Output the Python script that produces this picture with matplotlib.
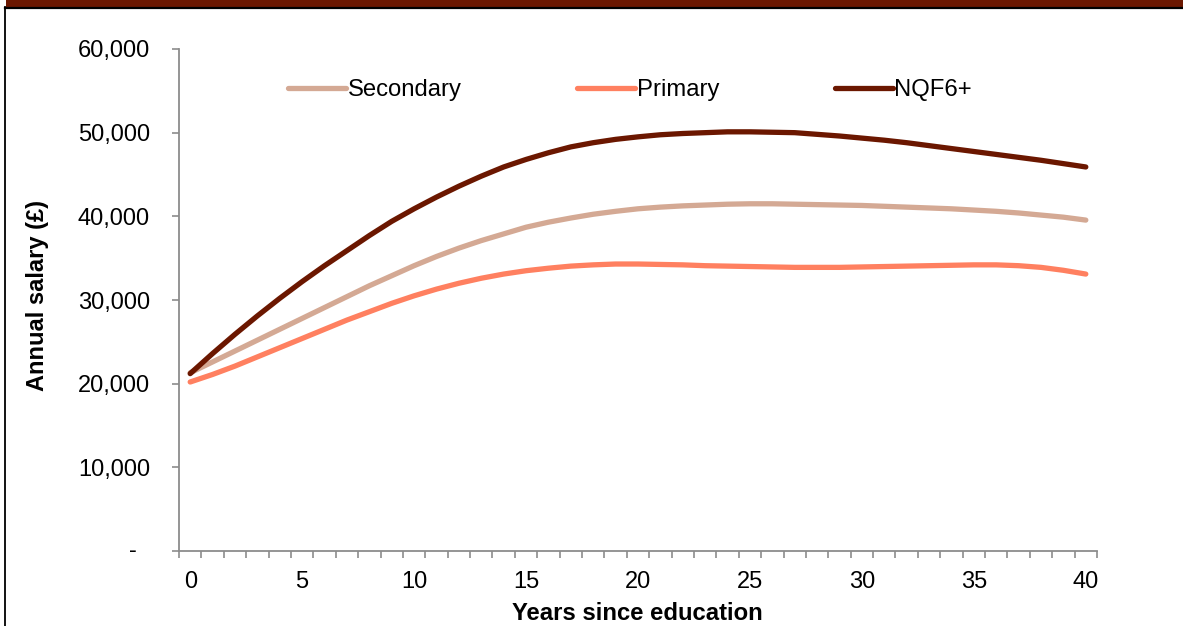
import matplotlib
matplotlib.use("Agg")
import matplotlib.pyplot as plt
from matplotlib.ticker import FixedLocator, FuncFormatter, NullFormatter
from matplotlib.patches import Rectangle
from matplotlib.lines import Line2D

plt.rcParams["font.family"] = ["Liberation Sans", "DejaVu Sans"]

years = list(range(0, 41))

secondary = [21300, 22600, 23900, 25200, 26500, 27800, 29100, 30400, 31700, 32900,
             34100, 35200, 36200, 37100, 37900, 38700, 39300, 39800, 40250, 40600,
             40900, 41100, 41250, 41350, 41450, 41500, 41500, 41450, 41400, 41350,
             41300, 41200, 41100, 41000, 40900, 40750, 40600, 40400, 40150, 39900,
             39550]

primary = [20200, 21100, 22100, 23200, 24300, 25400, 26500, 27600, 28600, 29600,
           30500, 31300, 32000, 32600, 33100, 33500, 33800, 34050, 34200, 34300,
           34300, 34250, 34200, 34100, 34050, 34000, 33950, 33900, 33900, 33900,
           33950, 34000, 34050, 34100, 34150, 34200, 34200, 34100, 33900, 33550,
           33100]

nqf6 = [21200, 23600, 25900, 28100, 30200, 32200, 34100, 35900, 37700, 39400,
        40900, 42300, 43600, 44800, 45900, 46800, 47600, 48300, 48800, 49200,
        49500, 49750, 49900, 50000, 50100, 50100, 50050, 50000, 49800, 49600,
        49350, 49100, 48800, 48450, 48100, 47750, 47400, 47050, 46700, 46300,
        45900]

series_names = ["Secondary", "Primary", "NQF6+"]
series_colors = ["#D4A994", "#FF8060", "#6B1700"]

x_label_ticks = [0, 5, 10, 15, 20, 25, 30, 35, 40]
y_ticks = [0, 10000, 20000, 30000, 40000, 50000, 60000]

W, H = 1183, 626
fig = plt.figure(figsize=(W / 100, H / 100), dpi=100)

# header band and frame
fig.patches.append(Rectangle((6 / W, 1 - 6.7 / H), 1, 6.7 / H, transform=fig.transFigure,
                             facecolor="#6B1700", edgecolor="none"))
fig.lines.append(Line2D([5 / W, 1], [1 - 7.7 / H, 1 - 7.7 / H], transform=fig.transFigure,
                        color="black", linewidth=1.6))
fig.lines.append(Line2D([5.3 / W, 5.3 / W], [0, 1 - 7 / H], transform=fig.transFigure,
                        color="black", linewidth=1.3))

left, right, top, bottom = 179, 1097, 49, 551
ax = fig.add_axes([left / W, 1 - bottom / H, (right - left) / W, (bottom - top) / H])

for vals, name, col in zip([secondary, primary, nqf6], series_names, series_colors):
    ax.plot(years, vals, color=col, linewidth=3.8, solid_capstyle="round",
            solid_joinstyle="round", label=name)

ax.set_xlim(-0.5, 40.5)
ax.set_ylim(0, 60000)

for s in ["top", "right"]:
    ax.spines[s].set_visible(False)
for s in ["left", "bottom"]:
    ax.spines[s].set_color("#8C8C8C")
    ax.spines[s].set_linewidth(1.3)

# category-style x axis: labels centred, tick marks between categories
ax.xaxis.set_major_locator(FixedLocator(x_label_ticks))
ax.xaxis.set_minor_locator(FixedLocator([v - 0.5 for v in range(0, 42)]))
ax.xaxis.set_minor_formatter(NullFormatter())
ax.tick_params(axis="x", which="major", length=0, pad=14.5, labelsize=17)
ax.tick_params(axis="x", which="minor", length=5, width=1.2, color="#8C8C8C", direction="out")

ax.yaxis.set_major_locator(FixedLocator(y_ticks))
ax.yaxis.set_major_formatter(FuncFormatter(lambda v, p: "" if v == 0 else f"{int(v):,}"))
ax.tick_params(axis="y", length=5, width=1.2, color="#8C8C8C", pad=15.8, labelsize=17)
ax.annotate("-", xy=(0, 0), xycoords=("axes fraction", "data"), xytext=(-42, 0),
            textcoords="offset pixels", ha="right", va="center", fontsize=17)

fig.text(38 / W, 1 - 296 / H, "Annual salary (£)", rotation=90, ha="center", va="center",
         fontsize=17, fontweight="bold")
fig.text(637.5 / W, 1 - 613 / H, "Years since education", ha="center", va="center",
         fontsize=17.2, fontweight="bold")

fig.legend(loc="center", bbox_to_anchor=(630 / W, 1 - 90 / H), ncol=3, frameon=False,
           fontsize=17.2, handlelength=2.43, handletextpad=0.05, columnspacing=4.85,
           borderaxespad=0)

fig.savefig("out.png", dpi=100, facecolor="white")
